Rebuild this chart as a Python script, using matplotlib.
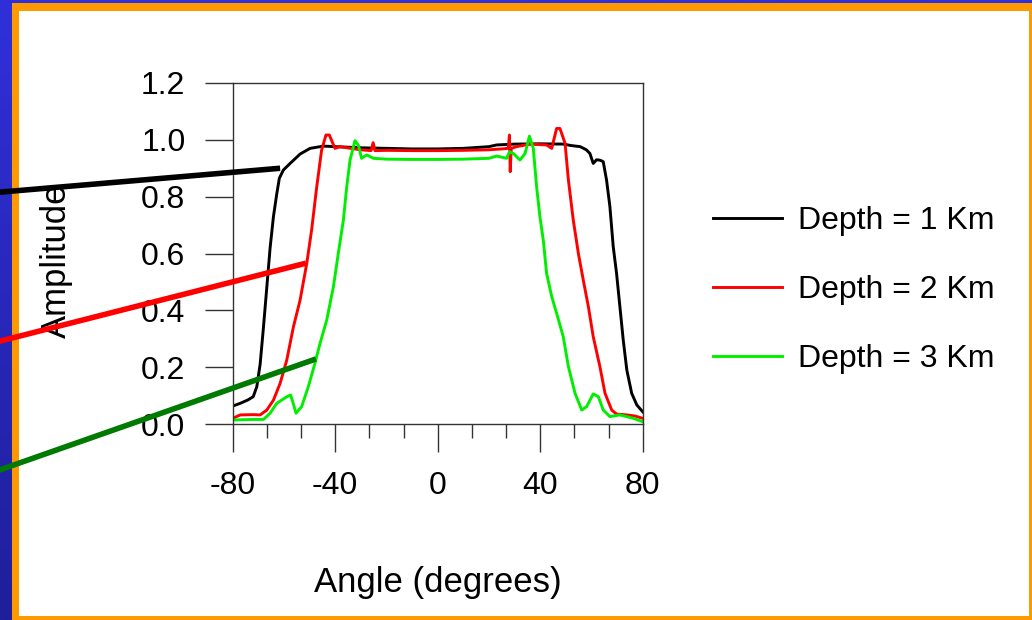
import numpy as np
import matplotlib
matplotlib.use("Agg")
import matplotlib.pyplot as plt
from matplotlib.patches import Rectangle
from matplotlib.ticker import AutoMinorLocator

plt.rcParams['font.family'] = ['Liberation Sans', 'DejaVu Sans']
plt.rcParams['axes.unicode_minus'] = False

# curves (angle in degrees, amplitude)
x1 = [-80, -77, -74, -72, -70.6, -69.3, -68, -66.7, -65.4, -64.1, -62.8, -61.8, -60.2, -57.6,
      -53.7, -49.8, -44.6, -40, -30, -20, -10, 0, 10, 20, 23, 30, 40, 49, 52, 55.6, 58, 59.4,
      60.7, 62, 63.5, 64.6, 65.9, 67.2, 68.5, 69.8, 71.1, 72.4, 73.8, 75.7, 77.7, 80]
y1 = [0.063, 0.073, 0.085, 0.096, 0.131, 0.21, 0.34, 0.48, 0.62, 0.73, 0.81, 0.865, 0.894, 0.917,
      0.95, 0.97, 0.978, 0.976, 0.972, 0.97, 0.968, 0.968, 0.97, 0.976, 0.982, 0.985, 0.986, 0.985,
      0.98, 0.976, 0.965, 0.952, 0.917, 0.93, 0.928, 0.923, 0.858, 0.765, 0.624, 0.53, 0.413,
      0.296, 0.19, 0.108, 0.067, 0.043]

x2 = [-80, -77, -72, -69.3, -66.7, -64.1, -61.5, -58.9, -56.3, -53.7, -51.1, -49.2, -47.2, -45.3,
      -43.6, -42.3, -40.1, -38.1, -34, -30, -26, -25.2, -24.5, -20, -10, 0, 10, 20, 25, 27.5,
      28, 28.3, 28.7, 30.8, 36, 42.5, 44.5, 46.4, 47.7, 49.7, 51, 52.9, 54.9, 56.8, 58.8, 60.7,
      63.3, 65.3, 67.9, 69.8, 73.8, 77, 80]
y2 = [0.02, 0.032, 0.033, 0.032, 0.049, 0.084, 0.143, 0.225, 0.342, 0.436, 0.565, 0.683, 0.835,
      0.964, 1.017, 1.017, 0.97, 0.976, 0.97, 0.965, 0.962, 0.99, 0.962, 0.963, 0.962, 0.962,
      0.963, 0.965, 0.968, 0.97, 1.017, 0.888, 0.97, 0.976, 0.985, 0.982, 0.97, 1.04, 1.04,
      0.988, 0.859, 0.718, 0.6, 0.507, 0.413, 0.307, 0.202, 0.108, 0.049, 0.035, 0.032, 0.028,
      0.02]

x3 = [-80, -72, -68, -65.4, -62.8, -60.9, -58.9, -57.4, -56.3, -55.3, -53.1, -50.5, -47.9, -45.9,
      -43.3, -40.7, -38.8, -36.8, -35.5, -34.2, -32.3, -31, -29.7, -27.7, -25.1, -20, -10, 0, 10,
      20, 23, 26.9, 28, 29.5, 32.1, 34.1, 35.8, 37.3, 38.6, 39.9, 41.2, 42.5, 44.5, 46.4, 49, 51,
      53.6, 56.2, 58.1, 60.7, 62.7, 64.6, 67.2, 71.1, 76.3, 80]
y3 = [0.014, 0.016, 0.016, 0.038, 0.073, 0.084, 0.096, 0.102, 0.07, 0.038, 0.061, 0.131, 0.214,
      0.284, 0.366, 0.483, 0.6, 0.718, 0.835, 0.929, 0.997, 0.982, 0.935, 0.947, 0.935, 0.932,
      0.931, 0.931, 0.932, 0.935, 0.943, 0.935, 0.958, 0.952, 0.929, 0.952, 1.013, 0.97, 0.835,
      0.729, 0.647, 0.53, 0.448, 0.39, 0.307, 0.202, 0.108, 0.049, 0.061, 0.106, 0.096, 0.049,
      0.026, 0.032, 0.02, 0.008]

labels = ["Depth = 1 Km", "Depth = 2 Km", "Depth = 3 Km"]
colors = ["black", "#ff0000", "#00ee00"]

# pointer lines from the left edge onto each curve (data coords)
ptr_x = [[-172, -61.5], [-172, -51.4], [-172, -47.5]]
ptr_y = [[0.815, 0.90], [0.289, 0.566], [-0.165, 0.229]]
ptr_colors = ["black", "#ff0000", "#007a00"]

fig = plt.figure(figsize=(10.32, 6.2), dpi=100)

# slide frame: blue band, orange border, white page
bg = fig.add_axes([0, 0, 1, 1])
grad = np.linspace(0, 1, 256).reshape(-1, 1)
bg.imshow(grad, aspect='auto', extent=[0, 1, 0, 1], origin='upper',
          cmap=matplotlib.colors.LinearSegmentedColormap.from_list("b", ["#3030da", "#1f1f9a"]))
bg.add_patch(Rectangle((12/1032, 0), 1020/1032, 617/620, color="#ff9900", lw=0))
bg.add_patch(Rectangle((19/1032, 4/620), 1010/1032, 605/620, color="white", lw=0))
bg.set_xlim(0, 1)
bg.set_ylim(0, 1)
bg.axis('off')

ax = fig.add_axes([232.7/1032, 196/620, 410/1032, 341/620])
for xs, ys, c, lab in zip([x1, x2, x3], [y1, y2, y3], colors, labels):
    ax.plot(xs, ys, color=c, lw=2.1, label=lab)

for px, py, c in zip(ptr_x, ptr_y, ptr_colors):
    ax.plot(px, py, color=c, lw=4, clip_on=False, zorder=5, solid_capstyle='butt')

ax.set_xlim(-80, 80)
ax.set_ylim(0, 1.2)
ax.set_xticks([-80, -40, 0, 40, 80])
ax.set_yticks([0, 0.2, 0.4, 0.6, 0.8, 1.0, 1.2])
ax.set_yticklabels(["0.0", "0.2", "0.4", "0.6", "0.8", "1.0", "1.2"])
ax.xaxis.set_minor_locator(AutoMinorLocator(3))
ax.tick_params(axis='both', which='major', direction='out', length=20, width=1,
               color='#333333', labelsize=23, pad=14)
ax.tick_params(axis='x', which='minor', direction='out', length=10, width=1, color='#333333')
for s in ax.spines.values():
    s.set_color('#333333')
    s.set_linewidth(1)

ax.set_xlabel("Angle (degrees)", fontsize=25)
ax.xaxis.set_label_coords(0.5, -0.415)
ax.set_ylabel("Amplitude", fontsize=25)
ax.yaxis.set_label_coords(-0.39, 0.48)

ax.legend(loc='center left', bbox_to_anchor=(713/1032, 330/620), bbox_transform=fig.transFigure,
          frameon=False, fontsize=23, handlelength=2.15, handletextpad=0.5,
          labelspacing=1.22, borderpad=0, borderaxespad=0)

fig.savefig("out.png", dpi=100)
